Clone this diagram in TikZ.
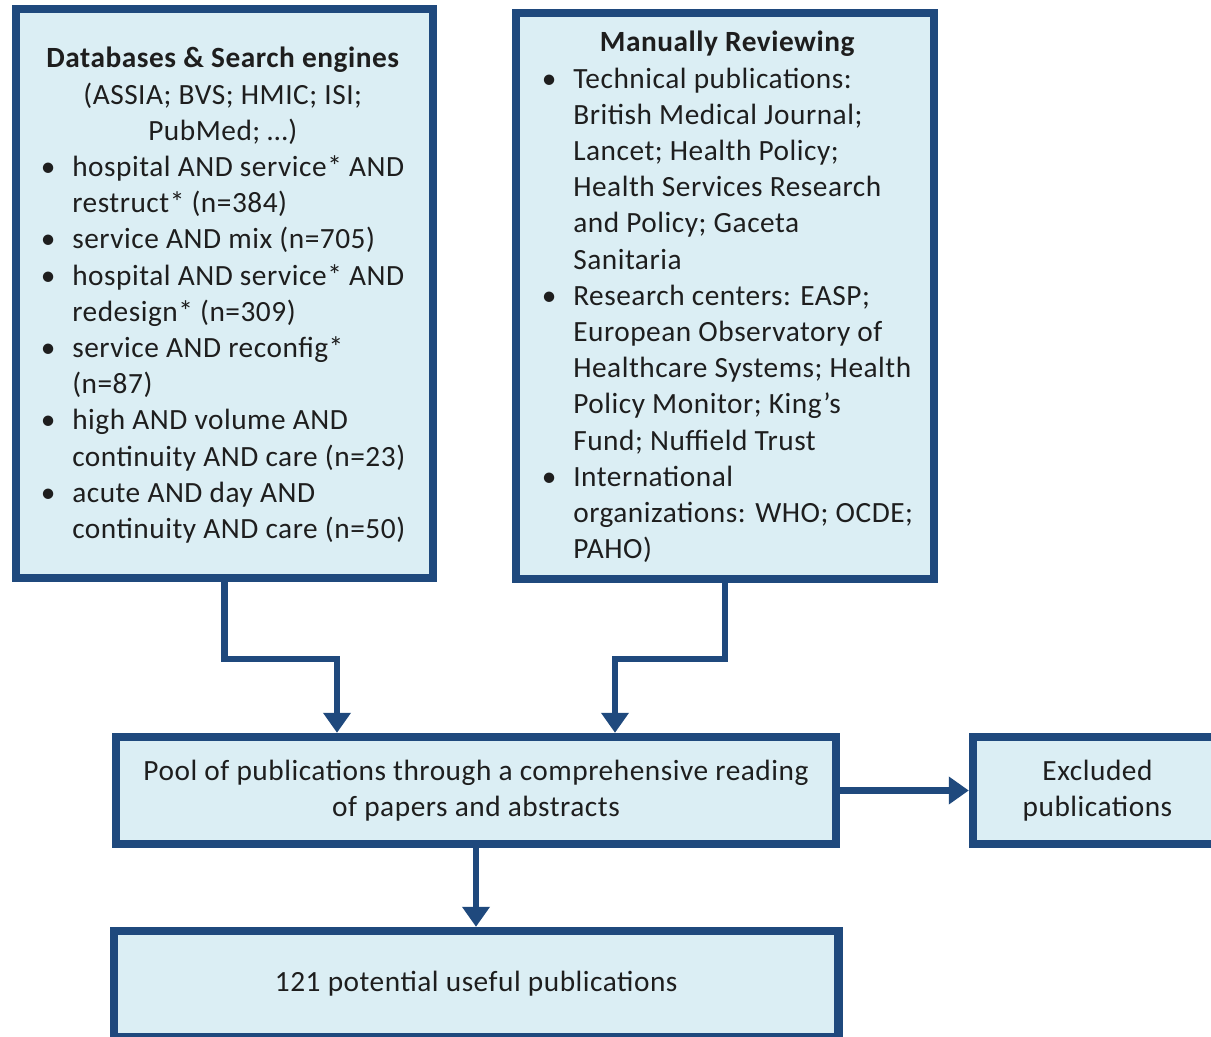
\documentclass[tikz,border=0pt]{standalone}
\usepackage{fontspec}
\setmainfont{Carlito}[LetterSpace=1.8]
\usetikzlibrary{arrows.meta}
\definecolor{boxblue}{RGB}{31,73,125}
\definecolor{boxfill}{RGB}{219,238,244}
\definecolor{txt}{RGB}{30,30,30}
\newcommand{\bul}{\hspace*{6pt}\makebox[0pt][c]{\textbullet}}
\tikzset{
  box/.style={draw=boxblue, fill=boxfill, line width=6.3pt, inner sep=0pt, text=txt,
    font=\fontsize{22}{27.15}\selectfont, align=center},
  txtblock/.style={inner sep=0pt, text=txt, font=\fontsize{22}{27.15}\selectfont},
  conn/.style={draw=boxblue, line width=5.2pt, -{Triangle[width=20pt,length=15pt]}}
}
\begin{document}
\begin{tikzpicture}[x=0.75pt,y=-0.75pt]
\clip (0,0) rectangle (1211,1037);
\fill[white] (0,0) rectangle (1211,1037);
% boxes
\node[box, minimum width=312.75pt, minimum height=426.75pt] (L) at (224.5,293.5) {};
\node[box, minimum width=313.5pt, minimum height=424.5pt] (R) at (725,296) {};
\node[box, minimum width=540pt, minimum height=80.25pt] (pool) at (476,790.5)
  {Pool of publications through a comprehensive reading\\of papers and abstracts};
\node[box, minimum width=186.75pt, minimum height=80.25pt] (excl) at (1097.5,790.5)
  {Excluded\\publications};
\node[box, minimum width=543.4pt, minimum height=79.5pt] (bot) at (476.25,984)
  {121 potential useful publications};
% texts
\node[txtblock, anchor=base west] (Ltxt) at (40,68) {%
\begin{tabular}[t]{@{}p{24pt}@{}l@{}}
\multicolumn{2}{@{}c@{}}{\bfseries Databases \& Search engines}\\
\multicolumn{2}{@{}c@{}}{(ASSIA; BVS; HMIC; ISI;}\\
\multicolumn{2}{@{}c@{}}{PubMed; \dots)}\\
\bul & hospital AND service* AND\\
     & restruct* (n=384)\\
\bul & service AND mix (n=705)\\
\bul & hospital AND service* AND\\
     & redesign* (n=309)\\
\bul & service AND reconfig*\\
     & (n=87)\\
\bul & high AND volume AND\\
     & continuity AND care (n=23)\\
\bul & acute AND day AND\\
     & continuity AND care (n=50)
\end{tabular}};
\node[txtblock, anchor=base west] (Rtxt) at (541,52) {%
\begin{tabular}[t]{@{}p{24pt}@{}l@{}}
\multicolumn{2}{@{}c@{}}{\bfseries Manually Reviewing}\\
\bul & Technical publications:\\
     & British Medical Journal;\\
     & Lancet; Health Policy;\\
     & Health Services Research\\
     & and Policy; Gaceta\\
     & Sanitaria\\
\bul & Research centers: EASP;\\
     & European Observatory of\\
     & Healthcare Systems; Health\\
     & Policy Monitor; King’s\\
     & Fund; Nuffield Trust\\
\bul & International\\
     & organizations: WHO; OCDE;\\
     & PAHO)
\end{tabular}};
% connectors
\coordinate (lj) at (337,659);
\coordinate (rj) at (615,659);
\draw[conn] (L.south) |- (lj) -- (lj |- pool.north);
\draw[conn] (R.south) |- (rj) -- (rj |- pool.north);
\draw[conn] (pool.east) -- (excl.west);
\draw[conn] (pool.south) -- (pool.south |- bot.north);
\end{tikzpicture}
\end{document}
